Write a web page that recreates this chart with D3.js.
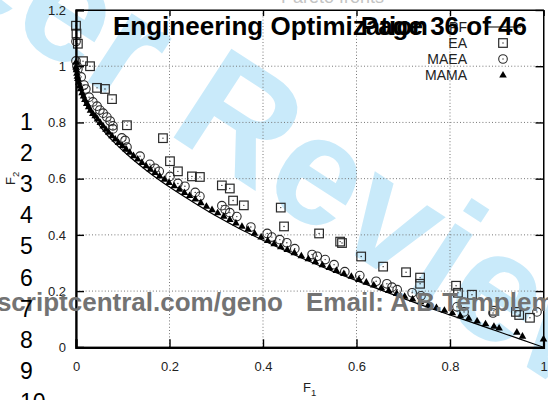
<!DOCTYPE html>
<html>
<head>
<meta charset="utf-8">
<script src="https://cdn.jsdelivr.net/npm/d3@7"></script>
<style>
  body { margin: 0; background: #fff; }
  svg { display: block; }
</style>
</head>
<body>
<svg id="chart" width="548" height="400"></svg>
<script>
// Reference Pareto front (line)
const lineF1 = [0, 0.01, 0.03, 0.06, 0.1, 0.15, 0.2, 0.25, 0.3, 0.35, 0.4, 0.45, 0.5, 0.55, 0.6, 0.65, 0.7, 0.75, 0.8, 0.85, 0.9, 0.95, 1.0];
const lineF2 = [1.0, 0.91, 0.84, 0.768, 0.70, 0.630, 0.570, 0.517, 0.467, 0.422, 0.381, 0.342, 0.305, 0.270, 0.237, 0.205, 0.174, 0.144, 0.115, 0.087, 0.058, 0.029, 0.0];

// EA final population
const eaF1 = [0.000, 0.001, 0.004, 0.015, 0.030, 0.045, 0.062, 0.077, 0.109, 0.186, 0.201, 0.218, 0.248, 0.265, 0.312, 0.329, 0.336, 0.359, 0.438, 0.445, 0.520, 0.565, 0.569, 0.610, 0.657, 0.706, 0.736, 0.736, 0.813, 0.817, 0.847, 0.894, 0.941, 0.948, 0.971];
const eaF2 = [1.144, 1.116, 1.080, 1.018, 1.000, 0.923, 0.919, 0.883, 0.790, 0.744, 0.662, 0.626, 0.608, 0.606, 0.576, 0.565, 0.522, 0.505, 0.497, 0.430, 0.405, 0.376, 0.371, 0.323, 0.287, 0.267, 0.248, 0.226, 0.219, 0.194, 0.187, 0.130, 0.126, 0.115, 0.105];

// MAEA final population
const maeaF1 = [0.000, 0.000, 0.002, 0.004, 0.011, 0.017, 0.021, 0.028, 0.036, 0.045, 0.051, 0.058, 0.066, 0.073, 0.079, 0.079, 0.098, 0.105, 0.109, 0.137, 0.158, 0.169, 0.178, 0.201, 0.218, 0.233, 0.255, 0.265, 0.312, 0.319, 0.329, 0.344, 0.374, 0.409, 0.419, 0.436, 0.451, 0.468, 0.505, 0.516, 0.533, 0.552, 0.575, 0.607, 0.642, 0.665, 0.676, 0.687, 0.719, 0.738, 0.815, 0.830, 0.892, 0.986];
const maeaF2 = [1.088, 1.019, 1.001, 0.990, 0.962, 0.933, 0.919, 0.890, 0.873, 0.858, 0.844, 0.833, 0.819, 0.805, 0.788, 0.777, 0.745, 0.736, 0.712, 0.680, 0.651, 0.637, 0.626, 0.608, 0.583, 0.573, 0.551, 0.537, 0.504, 0.490, 0.479, 0.465, 0.428, 0.405, 0.392, 0.383, 0.372, 0.351, 0.330, 0.324, 0.312, 0.294, 0.269, 0.255, 0.235, 0.226, 0.214, 0.205, 0.194, 0.183, 0.144, 0.126, 0.122, 0.126];

// MAMA final population
const mamaF1 = [0.000, 0.000, 0.001, 0.002, 0.003, 0.004, 0.006, 0.008, 0.010, 0.013, 0.016, 0.019, 0.023, 0.027, 0.031, 0.036, 0.041, 0.046, 0.052, 0.058, 0.064, 0.070, 0.077, 0.084, 0.091, 0.099, 0.107, 0.115, 0.123, 0.132, 0.141, 0.150, 0.159, 0.169, 0.179, 0.189, 0.199, 0.210, 0.221, 0.232, 0.243, 0.255, 0.267, 0.279, 0.291, 0.303, 0.316, 0.329, 0.342, 0.355, 0.368, 0.382, 0.396, 0.410, 0.424, 0.438, 0.452, 0.467, 0.482, 0.497, 0.512, 0.527, 0.542, 0.557, 0.573, 0.589, 0.605, 0.621, 0.637, 0.653, 0.669, 0.686, 0.703, 0.720, 0.737, 0.754, 0.771, 0.788, 0.805, 0.822, 0.840, 0.858, 0.876, 0.894, 0.905, 0.943, 0.955, 1.000];
const mamaF2 = [1.015, 0.998, 0.988, 0.975, 0.965, 0.957, 0.943, 0.931, 0.920, 0.906, 0.894, 0.882, 0.868, 0.856, 0.844, 0.832, 0.824, 0.813, 0.800, 0.788, 0.776, 0.765, 0.753, 0.741, 0.729, 0.718, 0.706, 0.694, 0.682, 0.670, 0.658, 0.646, 0.634, 0.622, 0.610, 0.598, 0.587, 0.575, 0.563, 0.551, 0.540, 0.528, 0.515, 0.502, 0.490, 0.479, 0.467, 0.455, 0.443, 0.431, 0.420, 0.406, 0.393, 0.380, 0.369, 0.358, 0.348, 0.337, 0.326, 0.315, 0.305, 0.294, 0.284, 0.274, 0.263, 0.253, 0.242, 0.232, 0.222, 0.212, 0.202, 0.192, 0.182, 0.172, 0.162, 0.152, 0.142, 0.132, 0.123, 0.113, 0.104, 0.094, 0.084, 0.075, 0.069, 0.054, 0.040, 0.030];

const xTicks = [0, 0.2, 0.4, 0.6, 0.8, 1];
const xTickLabels = ["0", "0.2", "0.4", "0.6", "0.8", "1"];
const yTicks = [0, 0.2, 0.4, 0.6, 0.8, 1, 1.2];
const yTickLabels = ["0", "0.2", "0.4", "0.6", "0.8", "1", "1.2"];
const legendLabels = ["PF", "EA", "MAEA", "MAMA"];
const lineNumbers = ["1", "2", "3", "4", "5", "6", "7", "8", "9", "10"];

const svg = d3.select("#chart");
const W = 548, H = 400;
const x = d3.scaleLinear().domain([0, 1]).range([76, 543.5]);
const y = d3.scaleLinear().domain([0, 1.2]).range([347.3, 10]);
const pts = (a, b) => a.slice(0, Math.min(a.length, b.length)).map((v, i) => [v, b[i]]);
const font = "Liberation Sans, Arial, sans-serif";

svg.append("rect").attr("width", W).attr("height", H).attr("fill", "#fff");

// faint header line at the top edge
svg.append("text").attr("x", 281).attr("y", 3)
  .attr("font-family", font).attr("font-size", 18)
  .attr("fill", "#c4c4c4").text("Pareto fronts");

// diagonal watermark
svg.append("text")
  .attr("transform", "translate(610,421) rotate(33)")
  .attr("text-anchor", "end")
  .attr("font-family", font)
  .attr("font-weight", "bold").attr("font-size", 154)
  .attr("fill", "#c9eafa")
  .text("For Peer Review");

// dotted grid
const grid = svg.append("g").attr("stroke", "#777").attr("stroke-width", 1).attr("stroke-dasharray", "1,2.2");
grid.selectAll("line.gx").data(xTicks.slice(1, -1)).join("line")
  .attr("x1", d => x(d)).attr("x2", d => x(d)).attr("y1", y(1.2)).attr("y2", y(0));
grid.selectAll("line.gy").data(yTicks.slice(1, -1)).join("line")
  .attr("x1", x(0)).attr("x2", x(1)).attr("y1", d => y(d)).attr("y2", d => y(d));

// Pareto front line
svg.append("path").datum(pts(lineF1, lineF2))
  .attr("fill", "none").attr("stroke", "#000").attr("stroke-width", 1.2)
  .attr("d", d3.line().curve(d3.curveMonotoneX).x(d => x(d[0])).y(d => y(d[1])));

const ink = "#2a2a2a";
function square(g, cx, cy) {
  g.append("rect").attr("x", cx - 4.3).attr("y", cy - 4.3).attr("width", 8.6).attr("height", 8.6)
    .attr("fill", "none").attr("stroke", ink).attr("stroke-width", 1.2);
  g.append("circle").attr("cx", cx).attr("cy", cy).attr("r", 0.7).attr("fill", ink);
}
function ring(g, cx, cy) {
  g.append("circle").attr("cx", cx).attr("cy", cy).attr("r", 4.3)
    .attr("fill", "none").attr("stroke", ink).attr("stroke-width", 1.1);
  g.append("circle").attr("cx", cx).attr("cy", cy).attr("r", 0.7).attr("fill", ink);
}
function tri(g, cx, cy) {
  g.append("path").attr("d", `M${cx},${cy - 4} L${cx + 3.8},${cy + 2.6} L${cx - 3.8},${cy + 2.6} Z`).attr("fill", "#000");
}

const gEA = svg.append("g");
pts(eaF1, eaF2).forEach(p => square(gEA, x(p[0]), y(p[1])));
const gMAEA = svg.append("g");
pts(maeaF1, maeaF2).forEach(p => ring(gMAEA, x(p[0]), y(p[1])));
const gMAMA = svg.append("g");
pts(mamaF1, mamaF2).forEach(p => tri(gMAMA, x(p[0]), y(p[1])));

// frame
svg.append("rect").attr("x", x(0)).attr("y", y(1.2)).attr("width", x(1) - x(0)).attr("height", y(0) - y(1.2))
  .attr("fill", "none").attr("stroke", "#000").attr("stroke-width", 1);

// axes with inward ticks
const xAxis = svg.append("g").attr("transform", `translate(0,${y(0)})`)
  .call(d3.axisBottom(x).tickValues(xTicks).tickFormat((d, i) => xTickLabels[i]).tickSize(-8).tickPadding(14));
const yAxis = svg.append("g").attr("transform", `translate(${x(0)},0)`)
  .call(d3.axisLeft(y).tickValues(yTicks).tickFormat((d, i) => yTickLabels[i]).tickSize(-8).tickPadding(10));
svg.append("g").attr("transform", `translate(0,${y(1.2)})`)
  .call(d3.axisTop(x).tickValues(xTicks).tickFormat("").tickSize(-6));
svg.append("g").attr("transform", `translate(${x(1)},0)`)
  .call(d3.axisRight(y).tickValues(yTicks).tickFormat("").tickSize(-8));
svg.selectAll(".domain").attr("stroke", "#000");
svg.selectAll(".tick line").attr("stroke", "#000").attr("stroke-width", 1.4);
[xAxis, yAxis].forEach(a => a.selectAll("text").attr("font-family", font).attr("font-size", 13).attr("fill", "#222"));
xAxis.select(".domain").attr("stroke-width", 2.2);
yAxis.select(".domain").attr("stroke-width", 2.2);

// axis titles
const xt = svg.append("text").attr("x", 303).attr("y", 392).attr("font-family", font).attr("font-size", 13).attr("fill", "#222");
xt.append("tspan").text("F");
xt.append("tspan").attr("dy", 4).attr("font-size", 9.5).text("1");
const yt = svg.append("text").attr("transform", "translate(15,185) rotate(-90)").attr("font-family", font).attr("font-size", 13).attr("fill", "#222");
yt.append("tspan").text("F");
yt.append("tspan").attr("dy", 4).attr("font-size", 9.5).text("2");

// legend
const lg = svg.append("g").attr("font-family", font).attr("font-size", 14).attr("fill", "#222");
legendLabels.forEach((lab, i) => {
  lg.append("text").attr("x", 467).attr("y", 32 + i * 16).attr("text-anchor", "end").text(lab);
});
svg.append("line").attr("x1", 486).attr("x2", 521).attr("y1", 27).attr("y2", 27).attr("stroke", "#000").attr("stroke-width", 1.2);
square(svg, 503, 43);
ring(svg, 503, 59);
tri(svg, 503, 75);

// page header
const hd = svg.append("g").attr("font-family", font).attr("font-weight", "bold").attr("font-size", 26).attr("fill", "#000");
hd.append("text").attr("x", 113).attr("y", 35).text("Engineering Optimization");
hd.append("text").attr("x", 527).attr("y", 35).attr("text-anchor", "end").text("Page 36 of 46");

// footer contact line
const ft = svg.append("g").attr("font-family", font).attr("font-weight", "bold").attr("font-size", 26).attr("fill", "#737373");
ft.append("text").attr("x", 283).attr("y", 311).attr("text-anchor", "end").text("URL: http://mc.manuscriptcentral.com/geno");
ft.append("text").attr("x", 306).attr("y", 311).text("Email: A.B.Templeman@liverpool.ac.uk");

// margin line numbers
svg.append("g").attr("font-family", font).attr("font-size", 23).attr("fill", "#000")
  .selectAll("text").data(lineNumbers).join("text")
  .attr("x", 20).attr("y", (d, i) => 130 + i * 31.1).text(d => d);
</script>
</body>
</html>
